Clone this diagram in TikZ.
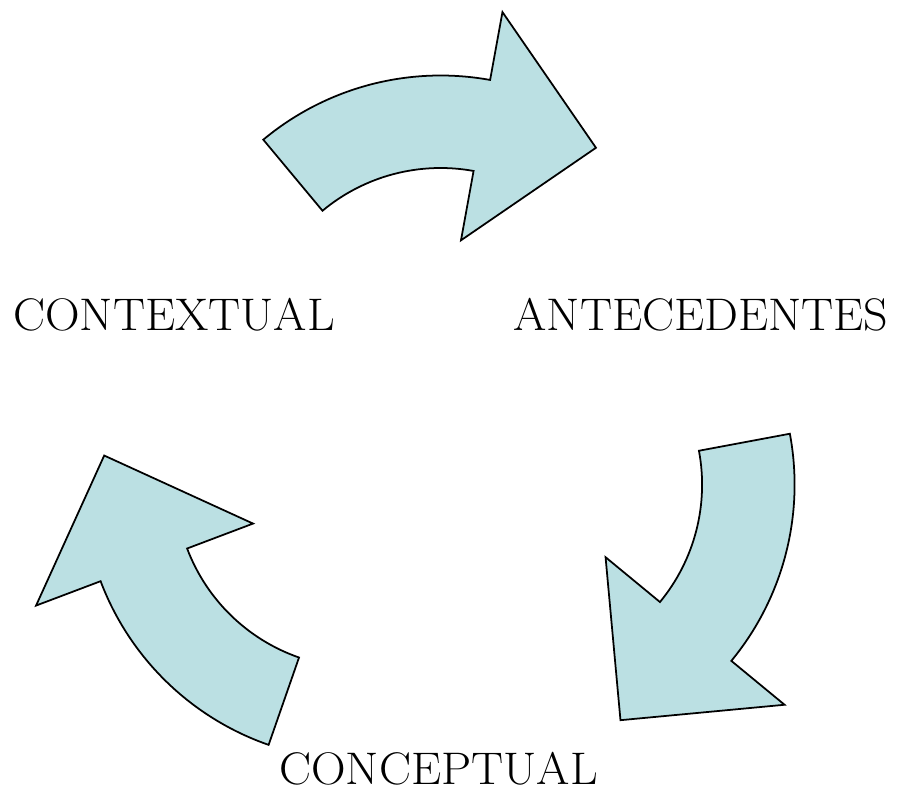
\documentclass[tikz,border=0pt]{standalone}
\usepackage{tikz}
\definecolor{cyclefill}{RGB}{187,224,227}

\begin{document}
\begin{tikzpicture}[>=stealth,
  bentarrow/.style={draw=black, line width=1pt, fill=cyclefill, line join=miter},
  stage/.style={anchor=base, inner sep=0pt, xscale=1.05, font=\fontsize{26}{30}\selectfont}]
  \useasboundingbox (0,0) rectangle (18,15.88);
  % bent arrows: centre x / centre y / tail angle
  \foreach \cx/\cy/\a in {8.812/8.830/129.8, 10.352/6.186/10.6, 7.194/6.214/250.8} {
    \begin{scope}[shift={(\cx,\cy)}]
      \draw[bentarrow] (\a:5.54) arc[start angle=\a, end angle={\a-50.1}, radius=5.54]
        -- ({\a-50.1}:6.92) -- ({\a-77}:5.14) -- ({\a-50.1}:2.28)
        -- ({\a-50.1}:3.69) arc[start angle={\a-50.1}, end angle=\a, radius=3.69] -- cycle;
    \end{scope}
  }
  % labels
  \node[stage] (contextual)   at (3.48,9.26)  {CONTEXTUAL};
  \node[stage] (antecedentes) at (14.02,9.26) {ANTECEDENTES};
  \node[stage] (conceptual)   at (8.77,0.18)  {CONCEPTUAL};
\end{tikzpicture}
\end{document}
